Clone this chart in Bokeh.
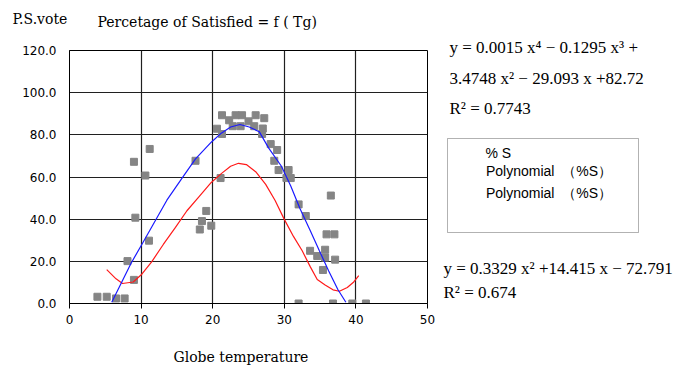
from bokeh.plotting import figure
from bokeh.layouts import row, column
from bokeh.models import (Range1d, FixedTicker, NumeralTickFormatter, Label,
                          BoxAnnotation, Legend, LegendItem)
from bokeh.embed import file_html
from bokeh.resources import INLINE

# ---------------- data ----------------
temp = [3.9, 5.2, 6.5, 7.7, 9.0, 8.1, 11.1, 9.2, 10.6, 9.0, 11.2, 17.6, 19.1, 18.5, 19.8, 18.2, 21.1,
        21.3, 23.2, 24.1, 26.0, 27.2, 22.3, 25.0, 22.8, 23.9, 25.8, 20.6, 21.3, 27.0, 26.9,
        28.1, 29.0, 28.6, 29.2, 30.6, 30.3, 30.9, 36.5, 32.0, 33.0, 35.9, 37.0, 33.6, 35.7,
        34.6, 35.7, 37.1, 35.4, 32.0, 36.8, 39.5, 41.4]
vote = [3.2, 3.2, 2.4, 2.4, 11.2, 20.1, 29.8, 40.7, 60.7, 67.2, 73.3, 67.7, 43.9, 39.1, 36.9, 35.1, 59.5,
        89.3, 89.3, 89.3, 89.3, 87.9, 86.9, 86.4, 84.1, 84.1, 84.1, 82.9, 80.4, 83.0, 80.4,
        75.6, 72.8, 67.7, 63.3, 63.3, 59.5, 59.5, 51.2, 47.0, 41.5, 32.8, 32.8, 25.0, 25.5,
        22.5, 21.8, 20.8, 15.9, 0.0, 0.0, 0.0, 0.0]

red_x = [5.2, 6.5, 7.4, 8.9, 10.1, 11.5, 13.1, 14.8, 16.4, 18.1, 19.8, 21.2, 22.5, 23.6, 24.7,
         26.0, 27.4, 28.7, 30.0, 31.3, 32.5, 33.6, 34.6, 35.7, 36.8, 37.7, 38.8, 39.7, 40.4]
red_y = [16.1, 11.7, 9.5, 10.2, 13.9, 19.9, 28.0, 36.1, 44.0, 50.7, 57.4, 61.6, 65.1, 66.5, 65.9,
         62.5, 56.5, 49.0, 39.9, 31.7, 25.0, 17.6, 11.4, 8.8, 6.5, 5.8, 7.6, 10.2, 13.2]

blue_x = [5.9, 7.2, 8.6, 10.1, 11.7, 13.6, 15.6, 17.6, 19.8, 21.2, 22.5, 23.8, 25.1, 26.5, 27.8,
          29.6, 30.9, 32.2, 33.6, 34.9, 36.2, 37.5, 38.6]
blue_y = [0.6, 9.5, 19.1, 28.0, 37.6, 49.0, 58.9, 68.6, 76.5, 80.8, 83.7, 84.9, 83.7, 81.5, 73.8,
          65.1, 55.7, 44.9, 34.7, 25.0, 15.4, 6.5, 0.6]

x_ticks = [0, 10, 20, 30, 40, 50]
y_ticks = [0, 20, 40, 60, 80, 100, 120]

title_left = "P.S.vote"
title_text = "Percetage of Satisfied = f ( Tg)"
x_label = "Globe temperature"
eq1 = ["y = 0.0015 x\u2074 \u2212 0.1295 x\u00b3 +",
       "3.4748 x\u00b2 \u2212 29.093 x +82.72",
       "R\u00b2 = 0.7743"]
eq2 = ["y = 0.3329 x\u00b2 +14.415 x \u2212 72.791",
       "R\u00b2 = 0.674"]
series_name = "% S"
trend_label = "Polynomial\u00a0 \uff08%S\uff09"

# ---------------- layout (page pixels) ----------------
TOTAL_W = 690
TOP_H = 34            # title strip: page y 0..34
MID_H = 304           # plot row:    page y 34..338
BOT_H = 29            # x title:     page y 338..367
LEFT_W = 440          # main plot:   page x 0..440
RIGHT_W = TOTAL_W - LEFT_W
FL, FR, FT, FB = 69, 427, 50, 303   # plot frame edges on the page


def blank(w, h):
    f = figure(width=w, height=h, output_backend="svg", toolbar_location=None,
               x_range=Range1d(0, w), y_range=Range1d(h, 0),
               x_axis_type=None, y_axis_type=None, min_border=0)
    f.outline_line_color = None
    f.background_fill_color = "white"
    f.border_fill_color = "white"
    return f


def lab(f, txt, x, y, font, size, baseline="middle"):
    f.add_layout(Label(x=x, y=y, text=txt, text_font=font, text_font_size=size,
                       text_baseline=baseline, text_align="left", text_color="black"))


# ---- main plot ----
p = figure(width=LEFT_W, height=MID_H, output_backend="svg", toolbar_location=None,
           x_range=Range1d(0, 50), y_range=Range1d(0, 120),
           min_border_left=FL, min_border_right=LEFT_W - FR,
           min_border_top=FT - TOP_H, min_border_bottom=TOP_H + MID_H - FB)
p.background_fill_color = "white"
p.border_fill_color = "white"
p.outline_line_color = "black"
p.outline_line_width = 1

p.xaxis.ticker = FixedTicker(ticks=x_ticks)
p.yaxis.ticker = FixedTicker(ticks=y_ticks)
p.yaxis.formatter = NumeralTickFormatter(format="0.0")
for ax in (p.xaxis, p.yaxis):
    ax.axis_line_color = "black"
    ax.major_label_text_font = "DejaVu Sans"
    ax.major_label_text_font_size = "12px"
    ax.major_label_text_color = "black"
    ax.minor_tick_line_color = None
    ax.major_tick_in = 0
p.xaxis.major_tick_out = 5
p.xaxis.major_tick_line_color = "black"
p.xaxis.major_label_standoff = 6
p.yaxis.major_tick_out = 0
p.yaxis.major_tick_line_color = None
p.yaxis.major_label_standoff = 13

p.grid.grid_line_color = "#202020"
p.grid.grid_line_width = 1.2

p.scatter(temp, vote, marker="square", size=7, fill_color="#858585",
          line_color="#858585")
p.line(red_x, red_y, line_color="#ff1a1a", line_width=1.2)
p.line(blue_x, blue_y, line_color="#1a1aff", line_width=1.2)

# ---- title strip ----
top = blank(TOTAL_W, TOP_H)
lab(top, title_left, 12, 18, "DejaVu Serif", "14px")
lab(top, title_text, 97, 21.5, "DejaVu Serif", "14px")

# ---- x-axis title strip ----
bot = blank(TOTAL_W, BOT_H)
lab(bot, x_label, 173, 18.5, "DejaVu Serif", "14px", baseline="alphabetic")

# ---- right panel: equations and legend (page x 440.., y 34..) ----
rp = blank(RIGHT_W, MID_H)
r_red = rp.line([], [], line_color="#ff1a1a", line_width=1.2)
r_blue = rp.line([], [], line_color="#1a1aff", line_width=1.2)
rp.add_layout(BoxAnnotation(left=7, right=198, top=104, bottom=198,
                            fill_alpha=0, line_color="black", line_width=1))
legend = Legend(items=[LegendItem(label=trend_label, renderers=[r_red]),
                       LegendItem(label=trend_label, renderers=[r_blue])],
                location=(12, 124), glyph_width=19, glyph_height=20, label_height=20,
                label_standoff=5, padding=10, spacing=2, margin=0,
                border_line_alpha=0, background_fill_alpha=0,
                label_text_font="Liberation Sans", label_text_font_size="14px",
                label_text_color="black")
rp.add_layout(legend)
lab(rp, series_name, 45, 118.7, "Liberation Sans", "14px")
for txt, yy in zip(eq1, [12.7, 44.3, 74]):
    lab(rp, txt, 9, yy, "Liberation Serif", "17px")
for txt, yy in zip(eq2, [234.3, 257.7]):
    lab(rp, txt, 3, yy, "Liberation Serif", "17px")

layout = column(top, row(column(p), rp, spacing=0), bot, spacing=0)
open("out.html", "w").write(file_html(layout, INLINE))
